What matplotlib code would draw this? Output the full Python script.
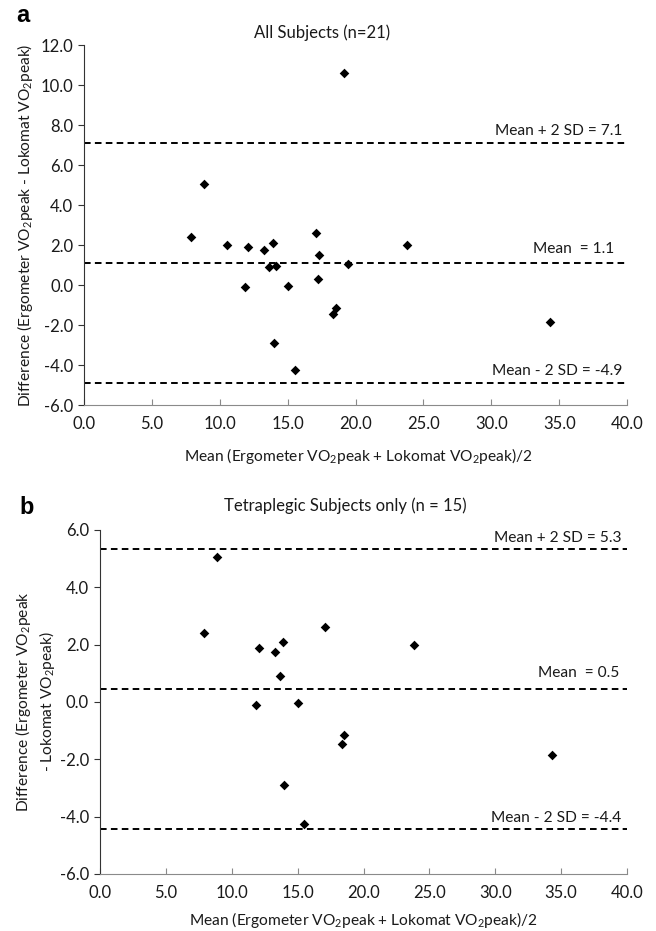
import numpy as np
import matplotlib
matplotlib.use('Agg')
import matplotlib.pyplot as plt

plt.rcParams['font.family'] = ['Lato', 'DejaVu Sans']
plt.rcParams['mathtext.fontset'] = 'custom'
plt.rcParams['mathtext.rm'] = 'Lato'
plt.rcParams['mathtext.it'] = 'Lato:italic'

# Panel a: all subjects (n=21)
mean_all = [7.9, 8.85, 10.5, 11.85, 12.05, 13.25, 13.65, 13.9, 14.1, 14.0, 15.0,
            15.5, 17.1, 17.3, 17.25, 18.35, 18.55, 19.15, 19.4, 23.8, 34.3]
diff_all = [2.4, 5.05, 2.0, -0.1, 1.9, 1.75, 0.9, 2.1, 0.95, -2.9, -0.05,
            -4.25, 2.6, 1.5, 0.3, -1.45, -1.15, 10.6, 1.05, 2.0, -1.85]
lines_all = [7.1, 1.1, -4.9]
labels_all = ['Mean + 2 SD = 7.1', 'Mean  = 1.1', 'Mean - 2 SD = -4.9']

# Panel b: tetraplegic subjects only (n=15)
mean_tetra = [7.9, 8.85, 12.05, 11.85, 13.25, 13.9, 13.65, 14.0, 15.0, 15.5,
              17.1, 18.35, 18.55, 23.8, 34.3]
diff_tetra = [2.4, 5.05, 1.9, -0.1, 1.75, 2.1, 0.9, -2.9, -0.05, -4.25,
              2.6, -1.45, -1.15, 2.0, -1.85]
lines_tetra = [5.34, 0.46, -4.43]
labels_tetra = ['Mean + 2 SD = 5.3', 'Mean  = 0.5', 'Mean - 2 SD = -4.4']

W, H = 656, 931
fig = plt.figure(figsize=(W / 100, H / 100), dpi=100)
TXT = '#1a1a1a'


def frac(x, y):
    return x / W, 1 - y / H


def make_panel(box, xs, ys, lines, line_labels, ylim, yticks, label_pos):
    l, t, r, b = box
    ax = fig.add_axes([l / W, 1 - b / H, (r - l) / W, (b - t) / H])
    ax.scatter(xs, ys, marker='D', s=24, color='black', zorder=3, linewidths=0)
    for v in lines:
        ax.axhline(v, color='black', lw=1.4, dashes=(3.4, 2.2), zorder=2)
    ax.set_xlim(0, 40)
    ax.set_ylim(*ylim)
    ax.set_xticks(np.arange(0, 41, 5))
    ax.set_xticklabels(['%.1f' % v for v in np.arange(0, 41, 5)])
    ax.set_yticks(yticks)
    ax.set_yticklabels(['%.1f' % v for v in yticks])
    for s in ['top', 'right']:
        ax.spines[s].set_visible(False)
    ax.spines['left'].set_color('#333333')
    ax.spines['bottom'].set_color('#8a8a8a')
    ax.tick_params(axis='x', direction='in', length=4, color='#8a8a8a',
                   labelsize=12, pad=8, labelcolor=TXT)
    ax.tick_params(axis='y', direction='out', length=4, color='#333333',
                   labelsize=12, pad=4, labelcolor=TXT)
    for txt, (xx, yy) in zip(line_labels, label_pos):
        fig.text(*frac(xx, yy), txt, ha='right', va='center', fontsize=11.2,
                 color=TXT)
    return ax


ax1 = make_panel((84.3, 45, 627, 405), mean_all, diff_all, lines_all, labels_all,
                 (-6, 12), np.arange(-6, 12.1, 2),
                 [(622, 131), (614, 249), (622, 371)])
ax2 = make_panel((100, 530, 627, 874), mean_tetra, diff_tetra, lines_tetra, labels_tetra,
                 (-6, 6), np.arange(-6, 6.1, 2),
                 [(622, 538), (619, 673), (621, 818)])

xlab = r'Mean (Ergometer VO$_2$peak + Lokomat VO$_2$peak)/2'
fig.text(*frac(358, 456), xlab, ha='center', va='center', fontsize=11.2, color=TXT)
fig.text(*frac(363, 920), xlab, ha='center', va='center', fontsize=11.2, color=TXT)

fig.text(*frac(25, 225), r'Difference (Ergometer VO$_2$peak - Lokomat VO$_2$peak)',
         rotation=90, ha='center', va='center', fontsize=11.2, color=TXT)
fig.text(*frac(35, 702), 'Difference (Ergometer VO$_2$peak\n- Lokomat VO$_2$peak)',
         rotation=90, ha='center', va='center', fontsize=11.2, color=TXT,
         multialignment='center', linespacing=1.25)

fig.text(*frac(322, 33), 'All Subjects (n=21)', ha='center', va='center',
         fontsize=12, color=TXT)
fig.text(*frac(345, 506), 'Tetraplegic Subjects only (n = 15)', ha='center',
         va='center', fontsize=12, color=TXT)

fig.text(*frac(23, 15), 'a', ha='center', va='center', fontsize=17,
         fontweight='bold', family=['Liberation Sans', 'DejaVu Sans'])
fig.text(*frac(27, 508), 'b', ha='center', va='center', fontsize=17,
         fontweight='bold', family=['Liberation Sans', 'DejaVu Sans'])

fig.savefig('out.png', dpi=100)
